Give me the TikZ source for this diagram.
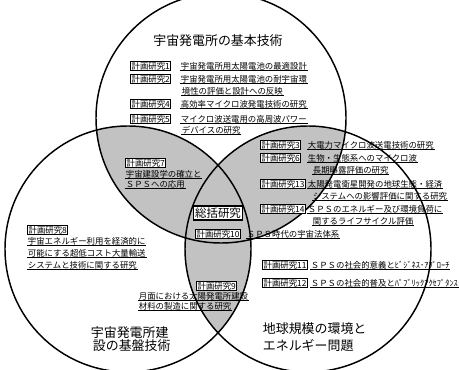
\documentclass[tikz,border=0pt]{standalone}
\usepackage{amssymb}
\usepackage{fontspec}
\newfontfamily\jpfont{Noto Sans CJK JP}
\usepackage{tikz}

\begin{document}
\begin{tikzpicture}[x=0.75pt,y=-0.75pt,
    every node/.style={font=\jpfont\fontsize{6.3}{8}\selectfont, inner sep=0.5pt, anchor=west},
    ring/.style={line width=1.1pt},
    lens/.style={fill=black!24},
    plan/.style={draw, fill=white, line width=0.8pt, inner sep=0.8pt},
    head/.style={font=\jpfont\fontsize{9.7}{12}\selectfont},
    ul/.style={line width=0.7pt}]
  \useasboundingbox (0,0) rectangle (459,370);
  \coordinate (top) at (221,118);
  \coordinate (left) at (128,249);
  \coordinate (right) at (308,249);
  \begin{scope}
    \clip (top) circle (125);
    \fill[lens] (left) circle (123) (right) circle (123);
  \end{scope}
  \begin{scope}
    \clip (left) circle (123);
    \fill[lens] (right) circle (123);
  \end{scope}
  \draw[ring] (top) circle (125) (left) circle (123) (right) circle (123);

  \node[head, anchor=center] (htop) at (218,41) {宇宙発電所の基本技術};
  \node[head] (hleft1) at (90,333) {宇宙発電所建};
  \node[head] (hleft2) at (92,346) {設の基盤技術};
  \node[head] (hright1) at (262,329) {地球規模の環境と};
  \node[head] (hright2) at (262,346) {エネルギー問題};

  \node[plan] (p1) at (130,66) {計画研究1};
  \node (t1) at (180,66) {宇宙発電所用太陽電池の最適設計};
  \node[plan] (p2) at (130,79) {計画研究2};
  \node (t2a) at (180,79) {宇宙発電所用太陽電池の耐宇宙環};
  \node (t2b) at (181,91) {境性の評価と設計への反映};
  \node[plan] (p4) at (130,104) {計画研究4};
  \node (t4) at (180,104) {高効率マイクロ波発電技術の研究};
  \node[plan] (p5) at (130,119) {計画研究5};
  \node (t5a) at (180,119) {マイクロ波送電用の高周波パワー};
  \node (t5b) at (181,130) {デバイスの研究};

  \node[plan] (p7) at (125,163) {計画研究7};
  \node (t7a) at (125,174) {宇宙建設学の確立と};
  \node (t7b) at (125,184) {ＳＰＳへの応用};

  \node[plan, anchor=center, line width=1.1pt, inner sep=1.2pt,
    font=\jpfont\fontsize{8.6}{10}\selectfont] (all) at (218,213) {総括研究};
  \node[plan] (p10) at (195,234) {計画研究10};
  \node (t10) at (246,234) {ＳＰＳ時代の宇宙法体系};

  \node[plan] (p3) at (260,145) {計画研究3};
  \node (t3) at (307,145) {大電力マイクロ波送電技術の研究};
  \node[plan] (p6) at (260,158) {計画研究6};
  \node (t6a) at (307,158) {生物・生態系へのマイクロ波};
  \node (t6b) at (312,170) {長期曝露評価の研究};
  \node[plan] (p13) at (260,184) {計画研究13};
  \node (t13a) at (307,184) {太陽発電衛星開発の地球生態・経済};
  \node (t13b) at (312,196) {システムへの影響評価に関する研究};
  \node[plan] (p14) at (260,209) {計画研究14};
  \node (t14a) at (307,209) {ＳＰＳのエネルギー及び環境負荷に};
  \node (t14b) at (312,221) {関するライフサイクル評価};

  \node[plan] (p11) at (262,265) {計画研究11};
  \node (t11) at (310,265) {ＳＰＳの社会的意義とﾋﾞｼﾞﾈｽ･ｱﾌﾟﾛｰﾁ};
  \node[plan] (p12) at (262,283) {計画研究12};
  \node (t12) at (310,283) {ＳＰＳの社会的普及とﾊﾟﾌﾞﾘｯｸｱｸｾﾌﾟﾀﾝｽ};

  \node[plan] (p8) at (27,230) {計画研究8};
  \node (t8a) at (27,241) {宇宙エネルギー利用を経済的に};
  \node (t8b) at (27,253) {可能にする超低コスト大量輸送};
  \node (t8c) at (27,265) {システムと技術に関する研究};
  \node[plan] (p9) at (196,286) {計画研究9};
  \node (t9a) at (138,296) {月面における太陽発電所建設};
  \node (t9b) at (138,306) {材料の製造に関する研究};

  \foreach \n in {t1,t2a,t2b,t4,t5a,t5b,t7a,t7b,t10,t3,t6a,t6b,t13a,t13b,
      t14a,t14b,t11,t12,t8a,t8b,t8c,t9a,t9b}
    \draw[ul] (\n.south west) -- (\n.south east);
\end{tikzpicture}
\end{document}
